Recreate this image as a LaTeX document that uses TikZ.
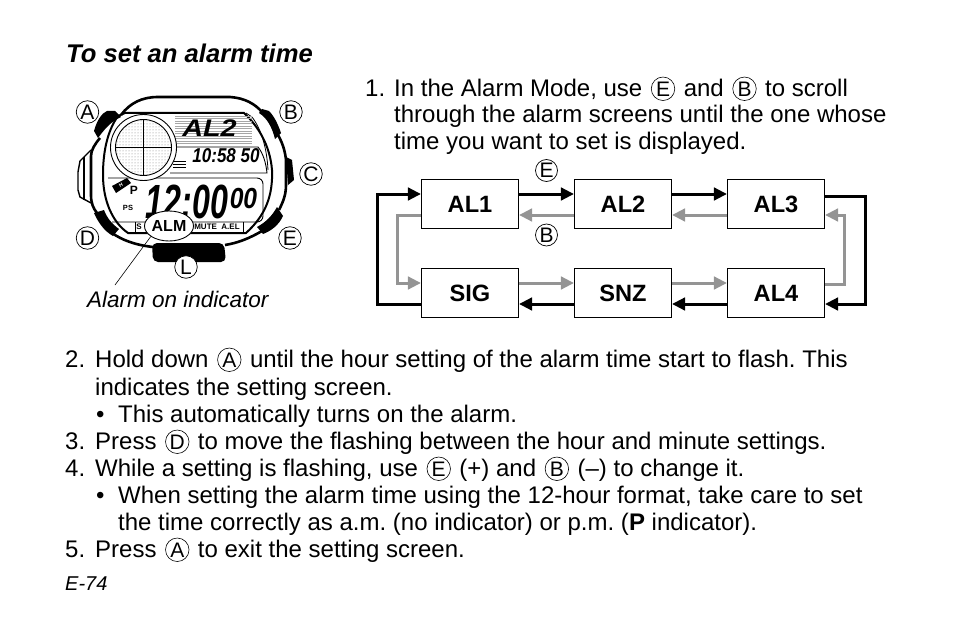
\documentclass[tikz,border=0pt]{standalone}
\usepackage{fontspec}
\setmainfont{Liberation Sans}
\usepackage{xcolor}
\usetikzlibrary{arrows.meta,patterns,shapes.geometric}

\definecolor{arrowgray}{HTML}{949494}
\newcommand{\bodyfont}{\frenchspacing\fontsize{24}{27}\selectfont}
\newcommand{\btn}[1]{\hspace{2pt}\tikz[baseline=(btnmark.base)]\node[draw,circle,line width=.6pt,inner sep=0pt,minimum size=23.5pt,font=\fontsize{21}{21}\selectfont,anchor=center] (btnmark) {#1};\hspace{2pt}}

\tikzset{
    lcdtext/.style={font=\bfseries\itshape,inner sep=0pt,anchor=center},
    keymark/.style={draw,fill=white,circle,inner sep=0pt,minimum size=22.5pt,font=\fontsize{21}{21}\selectfont,line width=.7pt},
}

\begin{document}
\begin{tikzpicture}[x=1pt,y=-1pt]
        \useasboundingbox (0,0) rectangle (954,634);

        % watch case
        \fill (94,131) .. controls (97,120) and (102,113) .. (107,111) -- (115,111) -- (121,117) .. controls (110,122) and (104,130) .. (98,138) -- cycle;
        \fill (262,109) -- (269,111) .. controls (274,116) and (278,124) .. (281,133) -- (275,139) .. controls (272,127) and (267,118) .. (259,113) -- cycle;
        \fill (286,157) -- (292,160) -- (294,180) -- (288,185) -- cycle;
        \fill (94,213) -- (104,210) .. controls (107,218) and (112,224) .. (119,229) -- (113,236) .. controls (104,231) and (98,222) .. (94,213) -- cycle;
        \fill (277,207) -- (283,216) .. controls (279,225) and (271,231) .. (263,234) -- (257,227) .. controls (266,222) and (272,216) .. (277,207) -- cycle;
        \fill[rounded corners=5pt] (152,243) -- (224,243) -- (226,262) -- (153,262) -- cycle;
        \draw[line width=2.6pt] (121,115) .. controls (130,103) and (142,97) .. (158,97) -- (230,97) .. controls (245,98) and (255,104) .. (262,112);
        \draw[line width=2.6pt] (278,135) .. controls (282,142) and (285,150) .. (286,160) -- (286,185) .. controls (286,195) and (283,202) .. (279,210);
        \draw[line width=2.6pt] (262,231) .. controls (250,238) and (238,243) .. (225,245);
        \draw[line width=2.6pt] (153,247) .. controls (135,245) and (122,240) .. (112,233);
        \draw[line width=2.6pt] (100,138) .. controls (95,144) and (91,150) .. (91,156) -- (91,195) .. controls (91,203) and (93,208) .. (97,213);
        \draw[line width=1.4pt] (91,150) -- (80,161) -- (78,172) -- (78,190) -- (80,197) -- (91,203);
        \draw[line width=1.4pt] (84,157) -- (84,200);
        % bezel
        \draw[line width=2pt] (118,116) -- (125,113) -- (244,113) .. controls (258,126) and (270,145) .. (272,170) .. controls (273,195) and (266,215) .. (246,233) -- (128,233) .. controls (112,222) and (103,200) .. (103,175) .. controls (103,150) and (108,130) .. (118,116);
        \draw[line width=.8pt] (246,113) -- (252,117) .. controls (262,130) and (267,150) .. (268,170);
        % lcd panels
        \foreach \y in {116,118.5,...,144}
            \draw[gray!70,line width=.3pt] (175,\y) -- (252,\y);
        \draw[line width=.9pt] (170,147) -- (258,147) .. controls (263,153) and (266,163) .. (267,173) -- (170,173);
        \draw[line width=.9pt,rounded corners=6pt] (108,178) -- (263,178) -- (263,222) -- (112,222);
        \draw[line width=.9pt] (135,222) -- (135,232) -- (243,232) -- (243,222);
        \fill (112,186) -- (127,178) -- (131,183) -- (116,193) -- cycle;
        \node[white,inner sep=0pt,font=\bfseries\fontsize{5}{5}\selectfont,rotate=28] (hband) at (121,185) {H};
        \foreach \y in {161,164,167}
            \draw[line width=1pt] (173,\y) -- (186,\y);

        % lcd figures
        \node[lcdtext,font=\bfseries\itshape\fontsize{24}{24}\selectfont,xscale=1.2] (alname) at (209.5,128.5) {AL2};
        \node[lcdtext,font=\bfseries\itshape\fontsize{20}{20}\selectfont,xscale=.85] (second) at (226,156) {10:58 50};
        \node[lcdtext,font=\bfseries\itshape\fontsize{48}{48}\selectfont,xscale=.67] (main) at (187,202) {12:00};
        \node[lcdtext,font=\bfseries\itshape\fontsize{29}{29}\selectfont,xscale=.85] (secs) at (243.5,199) {00};
        \node[inner sep=0pt,font=\bfseries\fontsize{12}{12}\selectfont] (pm) at (134,190) {P};
        \node[inner sep=0pt,font=\bfseries\fontsize{7.5}{8}\selectfont] (ps) at (128,208) {PS};
        \node[inner sep=0pt,font=\bfseries\fontsize{8}{8}\selectfont] (strip) at (217,227) {MUTE\ \ A.EL};
        \node[inner sep=0pt,font=\bfseries\fontsize{8}{8}\selectfont] (stripb) at (139,227) {S};

        % magnifier
        \fill[white] (143.5,147.5) circle (33);
        \draw[line width=.9pt] (143.5,147.5) circle (33);
        \draw[line width=.9pt,pattern=dots,pattern color=gray] (143.5,147.5) circle (28);
        \draw[line width=.6pt] (115.5,147.5) -- (171.5,147.5);
        \draw[line width=.6pt] (143.5,119.5) -- (143.5,175.5);

        % indicator
        \node[draw,fill=white,ellipse,line width=.9pt,minimum width=48pt,minimum height=30pt,inner sep=0pt,font=\bfseries\fontsize{16}{16}\selectfont] (alm) at (169,226) {ALM};
        \coordinate (leader) at (115,285);
        \draw[line width=.6pt] (alm.210) -- (leader);

        \begin{scope}[every node/.style = {keymark}]
            \node (A) at (87.5,112)   {A};
            \node (B) at (291,112)    {B};
            \node (C) at (311,174)    {C};
            \node (D) at (87.5,238)   {D};
            \node (E) at (290,238)    {E};
            \node (L) at (186,267)    {L};
        \end{scope}

        % text lines
        \begin{scope}[every node/.style = {anchor=base west,inner sep=0pt,font=\bodyfont}]
            \node (title) at (66,63) {\fontsize{25.6}{27}\selectfont\bfseries\itshape To set an alarm time};
            \node (alarmon) at (87,307) {\itshape\fontsize{22.5}{27}\selectfont Alarm on indicator};
            \node (one) at (365,96) {1.};
            \node (onea) at (394,96) {In the Alarm Mode, use \btn{E} and \btn{B} to scroll};
            \node (oneb) at (394,122) {through the alarm screens until the one whose};
            \node (onec) at (394,149) {time you want to set is displayed.};
            \node (two) at (65,367) {2.};
            \node (twoa) at (95,367) {Hold down \btn{A} until the hour setting of the alarm time start to flash. This};
            \node (twob) at (95,395) {indicates the setting screen.};
            \node (dota) at (96,422) {•};
            \node (twoc) at (118,422) {This automatically turns on the alarm.};
            \node (three) at (65,449) {3.};
            \node (threea) at (95,449) {Press \btn{D} to move the flashing between the hour and minute settings.};
            \node (four) at (65,476) {4.};
            \node (foura) at (95,476) {While a setting is flashing, use \btn{E} (+) and \btn{B} (–) to change it.};
            \node (dotb) at (96,503) {•};
            \node (fourb) at (118,503) {When setting the alarm time using the 12-hour format, take care to set};
            \node (fourc) at (118,530) {the time correctly as a.m. (no indicator) or p.m. ({\bfseries P} indicator).};
            \node (five) at (65,557) {5.};
            \node (fivea) at (95,557) {Press \btn{A} to exit the setting screen.};
            \node (page) at (65,590) {\itshape\fontsize{20}{24}\selectfont E-74};
        \end{scope}

        % alarm screens
        \begin{scope}[every node/.style = {draw,line width=1.1pt,minimum width=97pt,minimum height=49.5pt,inner sep=0pt,font=\bfseries\fontsize{23.6}{27}\selectfont}]
            \node (AL1) at (470,204)   {AL1};
            \node (AL2) at (623,204)   {AL2};
            \node (AL3) at (776,204)   {AL3};
            \node (SIG) at (470,293)   {SIG};
            \node (SNZ) at (623,293)   {SNZ};
            \node (AL4) at (776,293)   {AL4};
        \end{scope}
        \node[keymark,minimum size=22pt] (upkey) at (546.5,170.5) {E};
        \node[keymark,minimum size=22pt] (downkey) at (546.5,235) {B};

        \begin{scope}[>={Triangle[length=13pt,width=12.5pt]},line width=3pt]
                \draw[->] ([yshift=10pt]AL1.east) -- ([yshift=10pt]AL2.west);
                \draw[->] ([yshift=10pt]AL2.east) -- ([yshift=10pt]AL3.west);
                \draw[->] ([yshift=-11pt]AL4.west) -- ([yshift=-11pt]SNZ.east);
                \draw[->] ([yshift=-11pt]SNZ.west) -- ([yshift=-11pt]SIG.east);
                \draw[->] ([yshift=-11pt]SIG.west) -- ++(-43,0) |- ([yshift=10pt]AL1.west);
                \draw[->] ([yshift=8pt]AL3.east) -- ++(40,0) |- ([yshift=-11pt]AL4.east);
        \end{scope}
        \begin{scope}[>={Triangle[length=13pt,width=12.5pt]},line width=3pt,arrowgray]
                \draw[->] ([yshift=-11pt]AL2.west) -- ([yshift=-11pt]AL1.east);
                \draw[->] ([yshift=-11pt]AL3.west) -- ([yshift=-11pt]AL2.east);
                \draw[->] ([yshift=10pt]SIG.east) -- ([yshift=10pt]SNZ.west);
                \draw[->] ([yshift=10pt]SNZ.east) -- ([yshift=10pt]AL4.west);
                \draw[->] ([yshift=-11pt]AL1.west) -- ++(-23,0) |- ([yshift=10pt]SIG.west);
                \draw[->] ([yshift=9pt]AL4.east) -- ++(19,0) |- ([yshift=-11pt]AL3.east);
        \end{scope}
    \end{tikzpicture}
\end{document}
